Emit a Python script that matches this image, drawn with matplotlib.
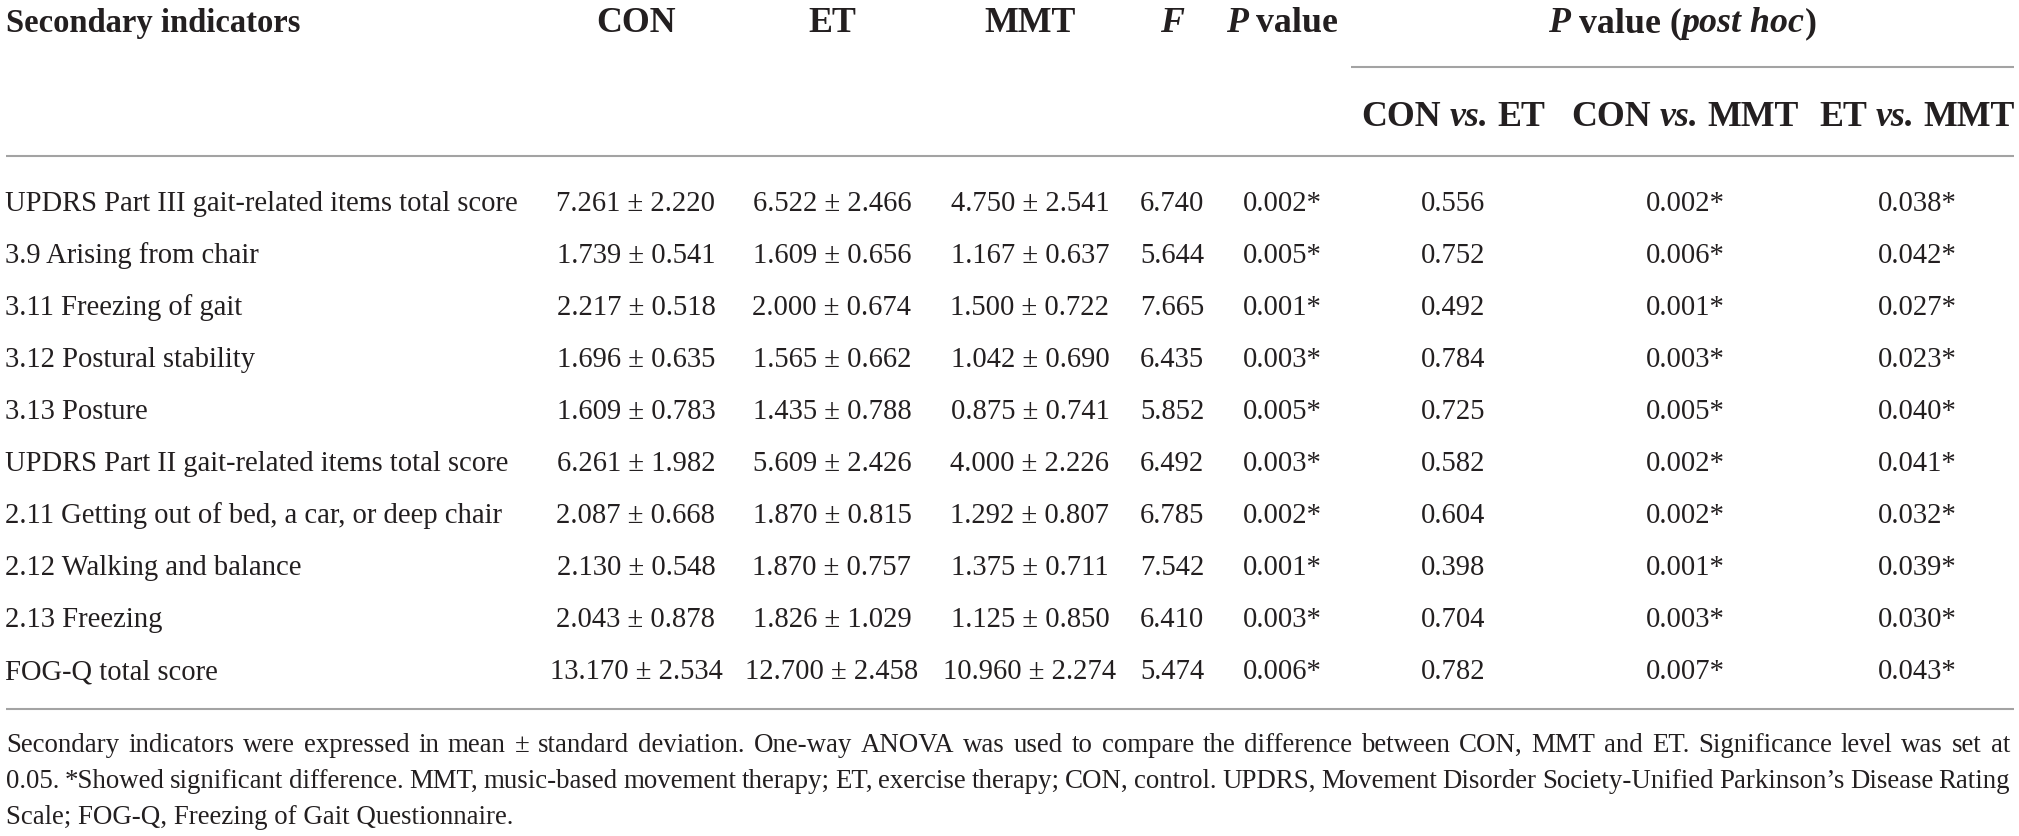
import matplotlib
matplotlib.use("Agg")
import matplotlib.pyplot as plt
from matplotlib.font_manager import FontProperties

# ---------------- data ----------------
indicators = [
    "UPDRS Part III gait-related items total score",
    "3.9 Arising from chair",
    "3.11 Freezing of gait",
    "3.12 Postural stability",
    "3.13 Posture",
    "UPDRS Part II gait-related items total score",
    "2.11 Getting out of bed, a car, or deep chair",
    "2.12 Walking and balance",
    "2.13 Freezing",
    "FOG-Q total score",
]
con_mean = [7.261, 1.739, 2.217, 1.696, 1.609, 6.261, 2.087, 2.130, 2.043, 13.170]
con_sd = [2.220, 0.541, 0.518, 0.635, 0.783, 1.982, 0.668, 0.548, 0.878, 2.534]
et_mean = [6.522, 1.609, 2.000, 1.565, 1.435, 5.609, 1.870, 1.870, 1.826, 12.700]
et_sd = [2.466, 0.656, 0.674, 0.662, 0.788, 2.426, 0.815, 0.757, 1.029, 2.458]
mmt_mean = [4.750, 1.167, 1.500, 1.042, 0.875, 4.000, 1.292, 1.375, 1.125, 10.960]
mmt_sd = [2.541, 0.637, 0.722, 0.690, 0.741, 2.226, 0.807, 0.711, 0.850, 2.274]
f_values = [6.740, 5.644, 7.665, 6.435, 5.852, 6.492, 6.785, 7.542, 6.410, 5.474]
p_values = [0.002, 0.005, 0.001, 0.003, 0.005, 0.003, 0.002, 0.001, 0.003, 0.006]
p_con_et = [0.556, 0.752, 0.492, 0.784, 0.725, 0.582, 0.604, 0.398, 0.704, 0.782]
p_con_mmt = [0.002, 0.006, 0.001, 0.003, 0.005, 0.002, 0.002, 0.001, 0.003, 0.007]
p_et_mmt = [0.038, 0.042, 0.027, 0.023, 0.040, 0.041, 0.032, 0.039, 0.030, 0.043]
alpha = 0.05

footer_lines = [
    "Secondary indicators were expressed in mean \u00b1 standard deviation. One-way ANOVA was used to compare the difference between CON, MMT and ET. Significance level was set at",
    "0.05. *Showed significant difference. MMT, music-based movement therapy; ET, exercise therapy; CON, control. UPDRS, Movement Disorder Society-Unified Parkinson\u2019s Disease Rating",
    "Scale; FOG-Q, Freezing of Gait Questionnaire.",
]

# ---------------- style ----------------
FAM = "Liberation Serif"
TXT = "#231f20"
RULE = "#a3a3a3"
W, H = 2019, 837

fp_body = FontProperties(family=FAM, size=20.6)
fp_foot = FontProperties(family=FAM, size=19.4)
fp_hb = FontProperties(family=FAM, size=25.8, weight="bold")
fp_hb_first = FontProperties(family=FAM, size=23.5, weight="bold")
fp_hbi = FontProperties(family=FAM, size=25.8, weight="bold", style="italic")

fig = plt.figure(figsize=(W / 100, H / 100), dpi=100)
ax = fig.add_axes([0, 0, 1, 1])
ax.set_xlim(0, W)
ax.set_ylim(H, 0)
ax.axis("off")
renderer = fig.canvas.get_renderer()


def width(s, fp):
    t1 = ax.text(0, 0, "|" + s + "|", fontproperties=fp)
    t2 = ax.text(0, 0, "||", fontproperties=fp)
    w = t1.get_window_extent(renderer).width - t2.get_window_extent(renderer).width
    t1.remove()
    t2.remove()
    return w


def rich(x, y, segs, ha="center"):
    ws = [width(s, fp) for s, fp in segs]
    total = sum(ws)
    cur = x - total / 2 if ha == "center" else x
    for (s, fp), w in zip(segs, ws):
        if s.strip():
            lead = len(s) - len(s.lstrip(" "))
            off = width(" " * lead, fp) if lead else 0
            ax.text(cur + off, y, s.strip(" "), fontproperties=fp, ha="left",
                    va="baseline", color=TXT)
        cur += w


# column centres
x_label = 5
x_con, x_et, x_mmt, x_f, x_p = 636, 832, 1030, 1172, 1282
x_ph = [1453, 1685, 1917]

# header row 1
hb1 = 32
ax.text(x_label + 1, hb1, "Secondary indicators", fontproperties=fp_hb_first, ha="left",
        va="baseline", color=TXT)
rich(x_con, hb1, [("CON", fp_hb)])
rich(x_et, hb1, [("ET", fp_hb)])
rich(x_mmt, hb1, [("MMT", fp_hb)])
rich(x_f, hb1, [("F", fp_hbi)])
rich(x_p, hb1, [("P", fp_hbi), (" value", fp_hb)])
rich(1682, hb1, [("P", fp_hbi), (" value (", fp_hb), ("post hoc", fp_hbi), (")", fp_hb)])

# header row 2
hb2 = 126
rich(x_ph[0], hb2, [("CON ", fp_hb), ("vs.", fp_hbi), (" ET", fp_hb)])
rich(x_ph[1], hb2, [("CON ", fp_hb), ("vs.", fp_hbi), (" MMT", fp_hb)])
rich(x_ph[2], hb2, [("ET ", fp_hb), ("vs.", fp_hbi), (" MMT", fp_hb)])

# rules
ax.plot([1351, 2014], [68, 68], color=RULE, lw=1.5, solid_capstyle="butt")
ax.plot([6, 2014], [157, 157], color=RULE, lw=1.5, solid_capstyle="butt")
ax.plot([6, 2014], [710, 710], color=RULE, lw=1.5, solid_capstyle="butt")


def fmt_p(p):
    return f"{p:.3f}" + ("*" if p < alpha else "")


row0, pitch = 211, 52
for i, name in enumerate(indicators):
    yb = row0 + i * pitch
    ax.text(x_label, yb, name, fontproperties=fp_body, ha="left", va="baseline", color=TXT)
    for xc, m, s in ((x_con, con_mean[i], con_sd[i]), (x_et, et_mean[i], et_sd[i]),
                     (x_mmt, mmt_mean[i], mmt_sd[i])):
        ax.text(xc, yb, f"{m:.3f} \u00b1 {s:.3f}", fontproperties=fp_body, ha="center",
                va="baseline", color=TXT)
    ax.text(x_f, yb, f"{f_values[i]:.3f}", fontproperties=fp_body, ha="center",
            va="baseline", color=TXT)
    ax.text(x_p, yb, fmt_p(p_values[i]), fontproperties=fp_body, ha="center",
            va="baseline", color=TXT)
    for xc, arr in zip(x_ph, (p_con_et, p_con_mmt, p_et_mmt)):
        ax.text(xc, yb, fmt_p(arr[i]), fontproperties=fp_body, ha="center",
                va="baseline", color=TXT)

# footer (justified)
left, right = 6, 2010
foot_base = [752, 788, 824]
for k, line in enumerate(footer_lines):
    yb = foot_base[k]
    if k < len(footer_lines) - 1:
        words = line.split(" ")
        ws = [width(w_, fp_foot) for w_ in words]
        gap = (right - left - sum(ws)) / (len(words) - 1)
        cur = left
        for w_, ww in zip(words, ws):
            ax.text(cur, yb, w_, fontproperties=fp_foot, ha="left", va="baseline", color=TXT)
            cur += ww + gap
    else:
        ax.text(left, yb, line, fontproperties=fp_foot, ha="left", va="baseline", color=TXT)

fig.savefig("out.png", dpi=100)
